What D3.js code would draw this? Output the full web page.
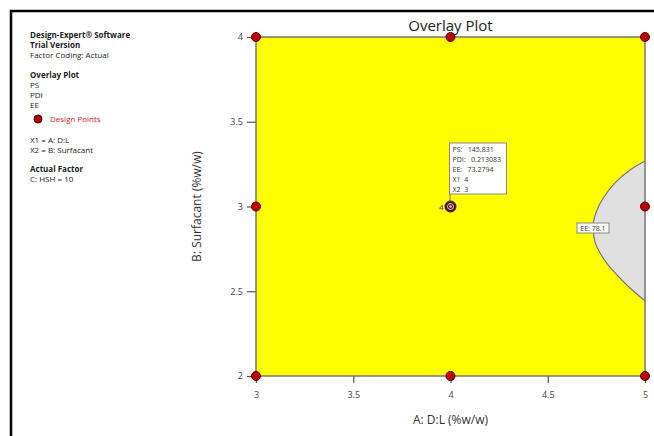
<!DOCTYPE html>
<html>
<head>
<meta charset="utf-8">
<script src="https://cdn.jsdelivr.net/npm/d3@7"></script>
<style>
  html, body { margin: 0; background: #fff; overflow: hidden; }
  svg { display: block; font-family: "Open Sans", sans-serif; }
</style>
</head>
<body>
<div id="chart"></div>
<script>
// design points (A: D:L, B: Surfacant)
var designA = [3, 3, 3, 4, 4, 5, 5, 5];
var designB = [2, 3, 4, 2, 4, 2, 3, 4];
var centerPoint = { a: 4, b: 3, count: 4 };

// EE = 78.1 contour, region to the right is greyed out
var contourA = [5.0, 4.923, 4.846, 4.789, 4.753, 4.735, 4.733, 4.743, 4.769, 4.810, 4.861, 4.923, 5.0];
var contourB = [3.268, 3.215, 3.139, 3.056, 2.979, 2.909, 2.861, 2.791, 2.726, 2.655, 2.590, 2.519, 2.443];

var xTicks = [3, 3.5, 4, 4.5, 5];
var yTicks = [2, 2.5, 3, 3.5, 4];

var flagLines = ["PS:   145.831", "PDI:   0.213083", "EE:   73.2794", "X1  4", "X2  3"];

var legendLines = [
    { t: "Design-Expert\u00ae Software", bold: true, y: 38 },
    { t: "Trial Version", bold: true, y: 48 },
    { t: "Factor Coding: Actual", y: 58 },
    { t: "Overlay Plot", bold: true, y: 78 },
    { t: "PS", y: 88 },
    { t: "PDI", y: 98 },
    { t: "EE", y: 108 },
    { t: "X1 = A: D:L", y: 143 },
    { t: "X2 = B: Surfacant", y: 153 },
    { t: "Actual Factor", bold: true, y: 172 },
    { t: "C: HSH = 10", y: 182 }
];

var width = 654, height = 436;

var svg = d3.select("#chart")
    .append("svg")
    .attr("width", width)
    .attr("height", height);

// outer frame (left + top only)
svg.append("path")
    .attr("d", "M11,440 V11 H660")
    .attr("fill", "none")
    .attr("stroke", "#000")
    .attr("stroke-width", 2.5);

// left legend
svg.append("g").selectAll("text")
    .data(legendLines)
    .enter()
    .append("text")
    .attr("x", 30)
    .attr("y", function (d) { return d.y; })
    .style("font-size", "8px")
    .style("font-weight", function (d) { return d.bold ? "bold" : "normal"; })
    .attr("fill", "#222")
    .text(function (d) { return d.t; });

svg.append("circle")
    .attr("cx", 38).attr("cy", 119).attr("r", 4)
    .attr("fill", "#c00000").attr("stroke", "#300").attr("stroke-width", 1);
svg.append("text")
    .attr("x", 50).attr("y", 122)
    .style("font-size", "8px")
    .attr("fill", "#d02020")
    .text("Design Points");

var x = d3.scaleLinear().domain([3, 5]).range([256, 645]);
var y = d3.scaleLinear().domain([2, 4]).range([376, 37]);

// yellow feasible region
svg.append("rect")
    .attr("x", x(3)).attr("y", y(4))
    .attr("width", x(5) - x(3)).attr("height", y(2) - y(4))
    .attr("fill", "#ffff00");

// grey region beyond EE contour
var contour = contourA.map(function (a, i) { return [a, contourB[i]]; });
var line = d3.line()
    .x(function (d) { return x(d[0]); })
    .y(function (d) { return y(d[1]); })
    .curve(d3.curveNatural);
svg.append("path")
    .attr("d", line(contour) + "Z")
    .attr("fill", "#e0e0e0")
    .attr("stroke", "none");
svg.append("path")
    .attr("d", line(contour))
    .attr("fill", "none")
    .attr("stroke", "#777")
    .attr("stroke-width", 1.2);

// plot border
svg.append("rect")
    .attr("x", x(3)).attr("y", y(4))
    .attr("width", x(5) - x(3)).attr("height", y(2) - y(4))
    .attr("fill", "none")
    .attr("stroke", "#777")
    .attr("stroke-width", 1.5);

// axes
var xAxis = svg.append("g")
    .attr("transform", "translate(0," + y(2) + ")")
    .call(d3.axisBottom(x).tickValues(xTicks).tickFormat(d3.format("")).tickSize(7).tickPadding(9));
var yAxis = svg.append("g")
    .attr("transform", "translate(" + x(3) + ",0)")
    .call(d3.axisLeft(y).tickValues(yTicks).tickFormat(d3.format("")).tickSize(9).tickPadding(4));
[xAxis, yAxis].forEach(function (g) {
    g.select(".domain").remove();
    g.selectAll(".tick line").attr("stroke", "#555").attr("stroke-width", 1.2);
    g.selectAll(".tick text").attr("fill", "#444").style("font-size", "9px").style("font-family", "Open Sans, sans-serif");
});

// axis titles
svg.append("text")
    .attr("x", x(4)).attr("y", 424)
    .attr("text-anchor", "middle")
    .style("font-size", "12px")
    .attr("fill", "#333")
    .text("A: D:L (%w/w)");
svg.append("text")
    .attr("transform", "translate(201," + y(3) + ") rotate(-90)")
    .attr("text-anchor", "middle")
    .style("font-size", "12px")
    .attr("fill", "#333")
    .text("B: Surfacant (%w/w)");

// title
svg.append("text")
    .attr("x", x(4)).attr("y", 31)
    .attr("text-anchor", "middle")
    .style("font-size", "15px")
    .attr("fill", "#222")
    .text("Overlay Plot");

// flag for the centre point
var boxX = x(centerPoint.a) - 1, boxY = 143, boxW = 57, boxH = 51;
svg.append("line")
    .attr("x1", boxX + 0.5).attr("x2", boxX + 0.5)
    .attr("y1", boxY + boxH).attr("y2", y(centerPoint.b))
    .attr("stroke", "#777").attr("stroke-width", 1);
svg.append("rect")
    .attr("x", boxX).attr("y", boxY)
    .attr("width", boxW).attr("height", boxH)
    .attr("fill", "#fff").attr("stroke", "#888").attr("stroke-width", 1);
svg.append("g").selectAll("text")
    .data(flagLines)
    .enter()
    .append("text")
    .attr("x", boxX + 3)
    .attr("y", function (d, i) { return boxY + 9 + i * 10; })
    .style("font-size", "7px")
    .style("white-space", "pre")
    .attr("xml:space", "preserve")
    .attr("fill", "#333")
    .text(function (d) { return d; });

// contour label
var lbl = svg.append("g").attr("transform", "translate(577,223)");
lbl.append("rect").attr("width", 32).attr("height", 10)
    .attr("fill", "#fff").attr("stroke", "#888").attr("stroke-width", 1);
lbl.append("text").attr("x", 16).attr("y", 7.8).attr("text-anchor", "middle")
    .style("font-size", "7px").attr("fill", "#333").text("EE: 78.1");

// design points
svg.append("g").selectAll("circle")
    .data(designA)
    .enter()
    .append("circle")
    .attr("cx", function (d) { return x(d); })
    .attr("cy", function (d, i) { return y(designB[i]); })
    .attr("r", 4.5)
    .attr("fill", "#c00000")
    .attr("stroke", "#400")
    .attr("stroke-width", 1);

// centre point with replicate count
var cx = x(centerPoint.a), cy = y(centerPoint.b);
svg.append("circle").attr("cx", cx).attr("cy", cy).attr("r", 5.5)
    .attr("fill", "#5a0a0a").attr("stroke", "#222").attr("stroke-width", 1);
svg.append("circle").attr("cx", cx).attr("cy", cy).attr("r", 3)
    .attr("fill", "none").attr("stroke", "#ddd").attr("stroke-width", 1);
svg.append("circle").attr("cx", cx).attr("cy", cy).attr("r", 1.2)
    .attr("fill", "#ddd");
svg.append("text")
    .attr("x", cx - 7).attr("y", cy + 3)
    .attr("text-anchor", "end")
    .style("font-size", "8px")
    .attr("fill", "#333")
    .text(centerPoint.count);
</script>
</body>
</html>
